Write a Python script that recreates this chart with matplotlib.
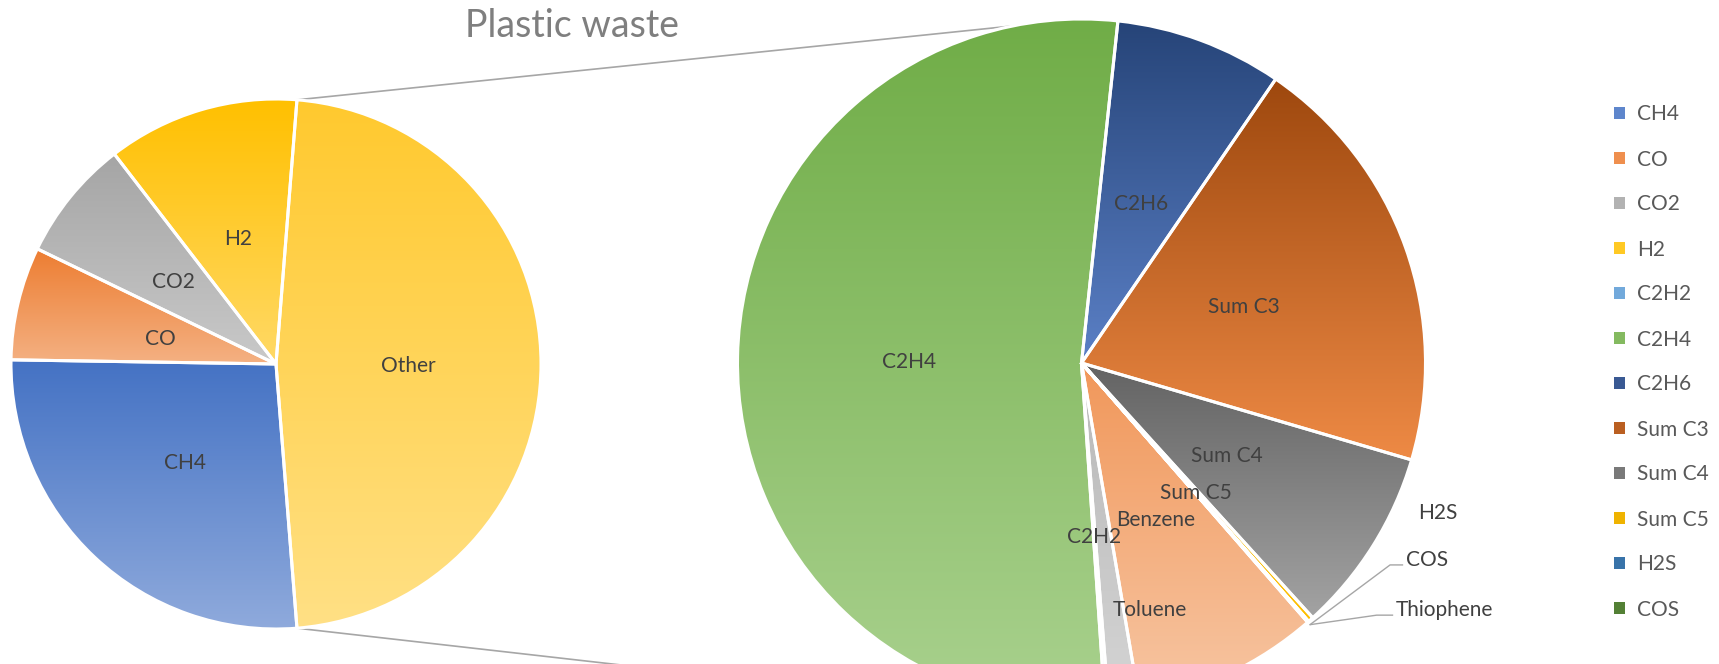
import numpy as np
import matplotlib
matplotlib.use('Agg')
import matplotlib.pyplot as plt
from matplotlib.patches import Patch, ConnectionPatch
from matplotlib.colors import to_rgb

# ---------------- data (share of total gas, %) ----------------
main_labels = ['CH4', 'CO', 'CO2', 'H2']
main_values = [26.5, 6.9, 7.4, 11.7]
other_label = 'Other'
sub_labels = ['C2H2', 'C2H4', 'C2H6', 'Sum C3', 'Sum C4', 'Sum C5',
              'H2S', 'COS', 'Thiophene', 'Benzene', 'Toluene']
sub_values = [0.08, 25.05, 3.73, 9.49, 4.14, 0.12, 0.01, 0.01, 0.01, 4.14, 0.68]
title = 'Plastic waste'
n_legend = 12  # legend shows entries up to COS (rest cut off)

# ---------------- styles ----------------
grad = {
    'CH4': ('#4472C4', '#8FAADC'),
    'CO': ('#ED7D31', '#F4B183'),
    'CO2': ('#A5A5A5', '#C9C9C9'),
    'H2': ('#FFC000', '#FFD966'),
    'Other': ('#FFC92E', '#FFE085'),
    'C2H2': ('#5B9BD5', '#9DC3E6'),
    'C2H4': ('#70AD47', '#A9D18E'),
    'C2H6': ('#264478', '#5B80C6'),
    'Sum C3': ('#9E480E', '#EE8A45'),
    'Sum C4': ('#636363', '#A3A3A3'),
    'Sum C5': ('#E6AC00', '#FFC000'),
    'H2S': ('#255E91', '#5B9BD5'),
    'COS': ('#43682B', '#70AD47'),
    'Thiophene': ('#698ED0', '#9DB4E0'),
    'Benzene': ('#F1975A', '#F7C6A3'),
    'Toluene': ('#B7B7B7', '#D5D5D5'),
}
LABEL_COLOR = '#404040'
FS = 15
EDGE_LW = 2.2

plt.rcParams['font.family'] = ['Lato', 'DejaVu Sans']

W, H = 1719, 664
fig = plt.figure(figsize=(W / 100, H / 100), dpi=100)

# pie placements (pixels): center & radius
lc, lr = (276, 364), 265
rc, rr = (1081.5, 363), 344
ax_l = fig.add_axes([(lc[0] - lr) / W, (H - lc[1] - lr) / H, 2 * lr / W, 2 * lr / H])
ax_r = fig.add_axes([(rc[0] - rr) / W, (H - rc[1] - rr) / H, 2 * rr / W, 2 * rr / H])


def gradient_fill(ax, wedge, top, bottom):
    ext = wedge.get_path().get_extents()
    t = np.linspace(0, 1, 256)[:, None]
    c0 = np.array(to_rgb(top))
    c1 = np.array(to_rgb(bottom))
    img = (c0 * (1 - t) + c1 * t)[:, None, :]
    x0, x1 = ext.x0, ext.x1
    if x1 - x0 < 1e-3:
        x1 = x0 + 1e-3
    im = ax.imshow(img, extent=(x0, x1, ext.y0, ext.y1), origin='upper',
                   aspect='auto', interpolation='bilinear', zorder=1)
    im.set_clip_path(wedge)


def draw_pie(ax, values, labels, start):
    wedges, _ = ax.pie(values, startangle=start, counterclock=False, radius=1,
                       wedgeprops=dict(edgecolor='white', linewidth=EDGE_LW))
    for w, lab in zip(wedges, labels):
        w.set_facecolor('none')
        w.set_zorder(2)
        gradient_fill(ax, w, *grad[lab])
    ax.set_xlim(-1, 1)
    ax.set_ylim(-1, 1)
    ax.set_aspect('equal')
    ax.axis('off')
    return wedges


other_value = sum(sub_values)
total = sum(main_values) + other_value
other_deg = other_value / total * 360
start = -other_deg / 2

left_labels = main_labels + [other_label]
wl = draw_pie(ax_l, main_values + [other_value], left_labels, start)
wr = draw_pie(ax_r, sub_values, sub_labels, start)


def mid(w):
    return np.deg2rad((w.theta1 + w.theta2) / 2)


left_dist = {'CO': 0.45}
for w, lab in zip(wl, left_labels):
    a = mid(w)
    d = left_dist.get(lab, 0.5)
    ax_l.text(d * np.cos(a), d * np.sin(a), lab, ha='center', va='center_baseline',
              fontsize=FS, color=LABEL_COLOR, zorder=5)

outside = {'H2S': (1.035, -0.43, 'center', None),
           'COS': (0.943, -0.567, 'left', (0.897, -0.587)),
           'Thiophene': (0.914, -0.712, 'left', (0.858, -0.733))}
for w, lab in zip(wr, sub_labels):
    a = mid(w)
    if lab in outside:
        x, y, ha, elbow = outside[lab]
        ax_r.text(x, y, lab, ha=ha, va='center_baseline', fontsize=FS, color=LABEL_COLOR,
                  zorder=5, clip_on=False)
        if elbow is not None:
            ax_r.plot([x - 0.01, elbow[0], 1.01 * np.cos(a)],
                      [elbow[1], elbow[1], 1.01 * np.sin(a)],
                      color='#A6A6A6', lw=1.0, clip_on=False, zorder=4)
        continue
    d = 0.5
    if lab == 'Toluene':
        d, a = 0.74, a + np.deg2rad(8.5)
    ax_r.text(d * np.cos(a), d * np.sin(a), lab, ha='center', va='center_baseline',
              fontsize=FS, color=LABEL_COLOR, zorder=5)

# connector lines between the "Other" slice and the second pie
half = np.deg2rad(other_deg / 2)
for s, ang, rad in ((1, 101.5, 1.0), (-1, 103, 1.03)):
    a = np.deg2rad(ang)
    con = ConnectionPatch(xyA=(np.cos(half), s * np.sin(half)), coordsA=ax_l.transData,
                          xyB=(rad * np.cos(a), s * rad * np.sin(a)),
                          coordsB=ax_r.transData,
                          color='#A6A6A6', lw=1.2, zorder=0)
    fig.add_artist(con)

# title
fig.text(572 / W, 1 - 36.7 / H, title, ha='center', va='baseline', fontsize=27,
         color='#7F7F7F')

# legend
all_labels = main_labels + sub_labels
handles = []
for lab in all_labels[:n_legend]:
    c0 = np.array(to_rgb(grad[lab][0]))
    c1 = np.array(to_rgb(grad[lab][1]))
    handles.append(Patch(facecolor=0.65 * c0 + 0.35 * c1, edgecolor='none'))
fig.legend(handles, all_labels[:n_legend], loc='upper left',
           bbox_to_anchor=(1614 / W, 1 - 104.5 / H), frameon=False, fontsize=FS,
           handlelength=0.55, handleheight=0.55, handletextpad=0.55,
           labelspacing=1.2, borderpad=0, borderaxespad=0, labelcolor='#595959')

fig.savefig('out.png', dpi=100)
